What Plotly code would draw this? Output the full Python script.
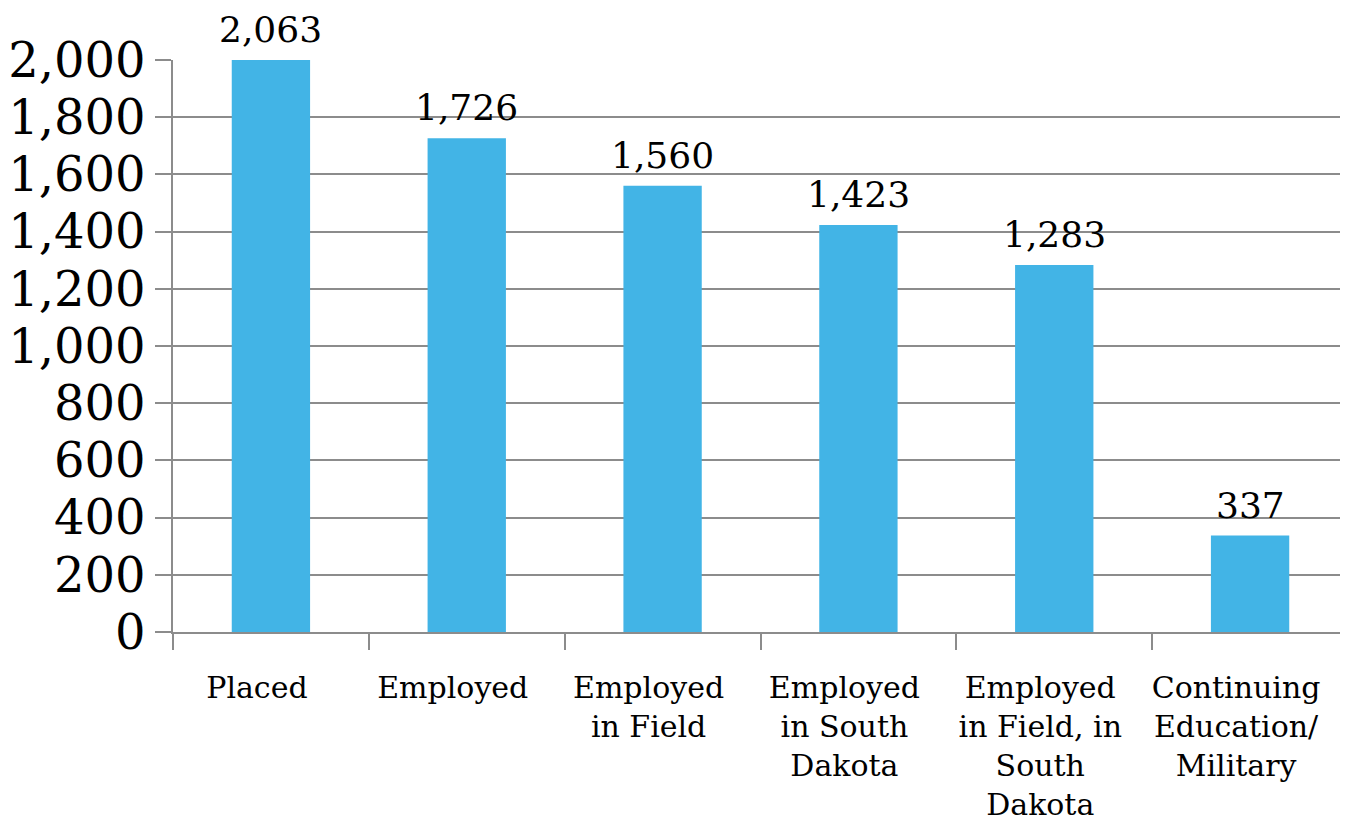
import plotly.graph_objects as go

categories = ["Placed", "Employed", "Employed<br>in Field", "Employed<br>in South<br>Dakota",
              "Employed<br>in Field, in<br>South<br>Dakota", "Continuing<br>Education/<br>Military"]
values = [2063, 1726, 1560, 1423, 1283, 337]
value_labels = ["2,063", "1,726", "1,560", "1,423", "1,283", "337"]
y_max = 2000

FONT = "DejaVu Serif"
GRID = "#8c8c8c"

fig = go.Figure()
fig.add_trace(go.Bar(
    x=categories, y=values, width=0.4,
    marker=dict(color="#42B4E6", line=dict(width=0)),
    hoverinfo="skip",
))

for c, v, t in zip(categories, values, value_labels):
    fig.add_annotation(x=c, y=min(v, y_max), text=t, showarrow=False,
                       yanchor="bottom", yshift=9, xanchor="center", borderpad=0,
                       font=dict(family=FONT, size=36, color="#000000"))

fig.update_layout(
    width=1340, height=814,
    margin=dict(l=163, r=0, t=52, b=190),
    paper_bgcolor="white", plot_bgcolor="white",
    showlegend=False,
    bargap=0.6,
)
fig.update_yaxes(
    range=[0, y_max], tickvals=list(range(0, 2001, 200)),
    tickformat=",d",
    showgrid=True, gridcolor=GRID, gridwidth=1.5,
    showline=True, linecolor=GRID, linewidth=1.5,
    ticks="outside", ticklen=16, tickcolor=GRID, tickwidth=1.5,
    tickfont=dict(family=FONT, size=48, color="#000000"),
    ticklabelstandoff=0,
    zeroline=False,
)
fig.update_xaxes(
    showline=True, linecolor=GRID, linewidth=1.5,
    ticks="outside", ticklen=16, tickcolor=GRID, tickwidth=1.5,
    tickson="boundaries",
    tickfont=dict(family=FONT, size=30, color="#000000"),
    ticklabelstandoff=28,
    ticklabelshift=-14,
    tickangle=0,
)

fig.write_html("out.html")
